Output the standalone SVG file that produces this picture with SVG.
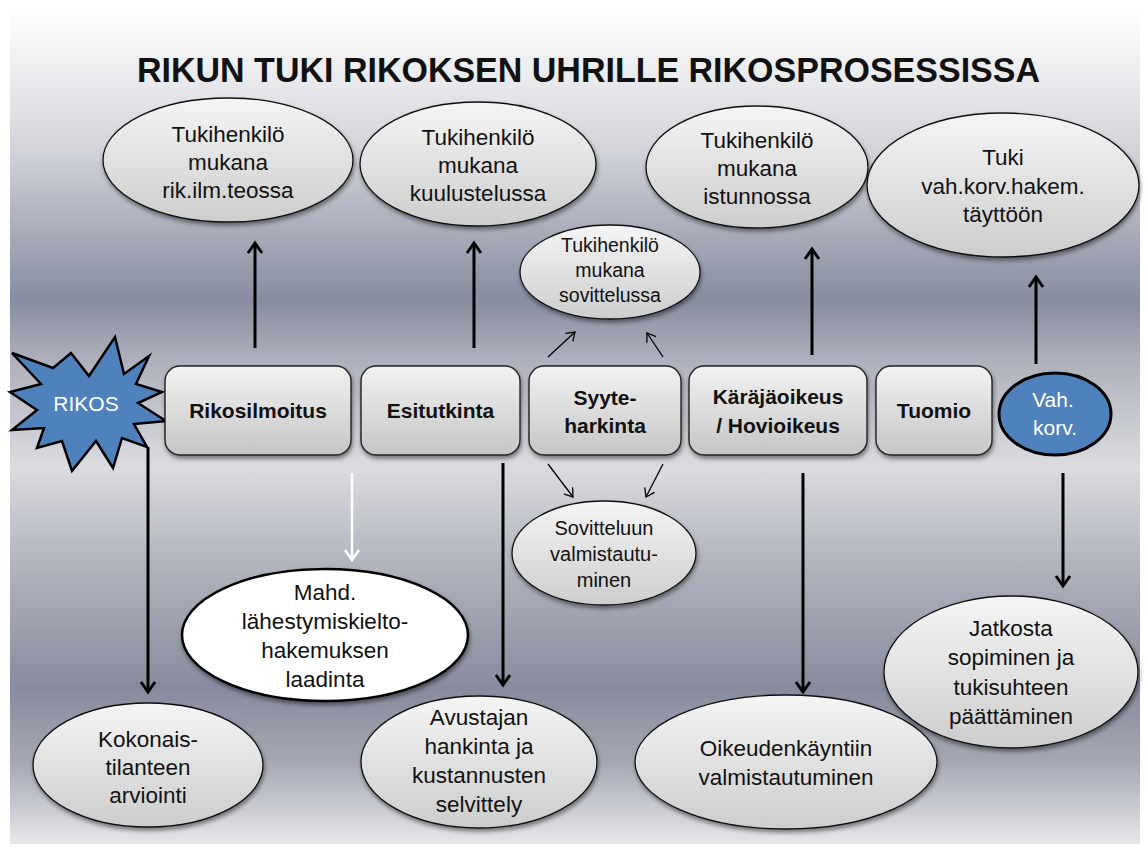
<svg xmlns="http://www.w3.org/2000/svg" width="1147" height="848" viewBox="0 0 1147 848">
<defs>
<linearGradient id="bg" gradientUnits="userSpaceOnUse" x1="0" y1="7" x2="0" y2="844">
<stop offset="0" stop-color="#ffffff"/>
<stop offset="0.06" stop-color="#f1f1f3"/>
<stop offset="0.17" stop-color="#d2d4da"/>
<stop offset="0.35" stop-color="#878ca0"/>
<stop offset="0.42" stop-color="#adb0bb"/>
<stop offset="0.55" stop-color="#dbdce0"/>
<stop offset="0.66" stop-color="#b3b5bf"/>
<stop offset="0.815" stop-color="#878b9d"/>
<stop offset="0.9" stop-color="#a4a7b3"/>
<stop offset="1" stop-color="#e7e7ea"/>
</linearGradient>
<linearGradient id="eg" x1="0" y1="0" x2="0" y2="1">
<stop offset="0" stop-color="#f5f5f5"/>
<stop offset="1" stop-color="#cdcdcd"/>
</linearGradient>
<linearGradient id="rg" x1="0" y1="0" x2="0" y2="1">
<stop offset="0" stop-color="#f2f2f2"/>
<stop offset="1" stop-color="#c6c6c6"/>
</linearGradient>
<filter id="sh" x="-10%" y="-10%" width="125%" height="135%">
<feDropShadow dx="1" dy="3" stdDeviation="2" flood-color="#000" flood-opacity="0.45"/>
</filter>
<marker id="ah" markerUnits="userSpaceOnUse" markerWidth="24" markerHeight="24" viewBox="-12 -12 24 24" refX="0" refY="0" orient="auto">
<path d="M-10,-7 L0,0 L-10,7" fill="none" stroke="#000" stroke-width="3"/>
</marker>
<marker id="ahw" markerUnits="userSpaceOnUse" markerWidth="24" markerHeight="24" viewBox="-12 -12 24 24" refX="0" refY="0" orient="auto">
<path d="M-10,-7 L0,0 L-10,7" fill="none" stroke="#fff" stroke-width="2.5"/>
</marker>
<marker id="aht" markerUnits="userSpaceOnUse" markerWidth="20" markerHeight="20" viewBox="-10 -10 20 20" refX="0" refY="0" orient="auto">
<path d="M-8,-5.5 L0,0 L-8,5.5" fill="none" stroke="#000" stroke-width="1.3"/>
</marker>
</defs>
<style>
.t{font-family:"Liberation Sans",Arial,sans-serif;text-anchor:middle;fill:#111}
.e{font-size:22.5px}
.s{font-size:19.5px}
.b{font-size:21px;font-weight:bold}
.w{fill:#fff;font-size:21px}
.el{fill:url(#eg);stroke:#111;stroke-width:1.3;filter:url(#sh)}
.bx{fill:url(#rg);stroke:#222;stroke-width:1.4;filter:url(#sh)}
.c{stroke:#000;stroke-width:3;fill:none;marker-end:url(#ah)}
.cw{stroke:#fff;stroke-width:2.5;fill:none;marker-end:url(#ahw)}
.ct{stroke:#000;stroke-width:1.3;fill:none;marker-end:url(#aht)}
</style>
<rect x="0" y="0" width="1147" height="848" fill="#ffffff"/>
<rect x="10" y="7" width="1130" height="837" fill="url(#bg)"/>
<text class="t" x="588.5" y="82" font-size="34.5" font-weight="bold" textLength="903" lengthAdjust="spacingAndGlyphs">RIKUN TUKI RIKOKSEN UHRILLE RIKOSPROSESSISSA</text>

<g id="connectors">
<line class="c" x1="255" y1="348" x2="255" y2="243"/>
<line class="c" x1="474" y1="348" x2="474" y2="243"/>
<line class="c" x1="812" y1="355" x2="812" y2="249"/>
<line class="c" x1="1036" y1="364" x2="1036" y2="277"/>
<line class="c" x1="148" y1="447" x2="148" y2="692"/>
<line class="cw" x1="352" y1="473" x2="352" y2="560"/>
<line class="c" x1="503" y1="463" x2="503" y2="685"/>
<line class="c" x1="803" y1="473" x2="803" y2="692"/>
<line class="c" x1="1063" y1="473" x2="1063" y2="586"/>
<line class="ct" x1="548" y1="357" x2="575" y2="332"/>
<line class="ct" x1="663" y1="357" x2="647" y2="333"/>
<line class="ct" x1="548" y1="464" x2="573" y2="497"/>
<line class="ct" x1="663" y1="464" x2="646" y2="497"/>
</g>

<g id="n-e1">
<ellipse class="el" cx="228" cy="160" rx="125" ry="62"/>
<text class="t e" x="228"><tspan x="228" y="142">Tukihenkilö</tspan><tspan x="228" y="170">mukana</tspan><tspan x="228" y="198">rik.ilm.teossa</tspan></text>
</g>
<g id="n-e2">
<ellipse class="el" cx="478" cy="164" rx="118" ry="62"/>
<text class="t e"><tspan x="478" y="145">Tukihenkilö</tspan><tspan x="478" y="173">mukana</tspan><tspan x="478" y="201">kuulustelussa</tspan></text>
</g>
<g id="n-e3">
<ellipse class="el" cx="757" cy="167" rx="111" ry="61"/>
<text class="t e"><tspan x="757" y="148">Tukihenkilö</tspan><tspan x="757" y="176">mukana</tspan><tspan x="757" y="204">istunnossa</tspan></text>
</g>
<g id="n-e4">
<ellipse class="el" cx="1003" cy="185" rx="136" ry="72"/>
<text class="t e"><tspan x="1003" y="165">Tuki</tspan><tspan x="1003" y="194">vah.korv.hakem.</tspan><tspan x="1003" y="222">täyttöön</tspan></text>
</g>
<g id="n-e5">
<ellipse class="el" cx="610" cy="272" rx="90" ry="47"/>
<text class="t s"><tspan x="610" y="252">Tukihenkilö</tspan><tspan x="610" y="277">mukana</tspan><tspan x="610" y="302">sovittelussa</tspan></text>
</g>

<g id="n-rikos">
<polygon points="12,353 53,368 71,353 89,376 115,337 124,374 149,356 136,384 162,392 138,403 166,421 134,424 147,447 122,438 113,468 96,441 72,471 62,441 37,448 44,428 12,430 37,410 10,392 41,384" fill="#4f81bd" stroke="#000" stroke-width="2.5" stroke-linejoin="miter"/>
<text class="t w" x="86" y="411">RIKOS</text>
</g>
<g id="n-rikosilmoitus">
<rect class="bx" x="165" y="366" width="186" height="89" rx="15"/>
<text class="t b" x="258" y="418">Rikosilmoitus</text>
</g>
<g id="n-esitutkinta">
<rect class="bx" x="361" y="366" width="159" height="89" rx="15"/>
<text class="t b" x="440.5" y="418">Esitutkinta</text>
</g>
<g id="n-syyteharkinta">
<rect class="bx" x="529" y="366" width="152" height="89" rx="15"/>
<text class="t b"><tspan x="605" y="405">Syyte-</tspan><tspan x="605" y="433">harkinta</tspan></text>
</g>
<g id="n-oikeus">
<rect class="bx" x="689" y="366" width="178" height="89" rx="15"/>
<text class="t b"><tspan x="778" y="404">Käräjäoikeus</tspan><tspan x="778" y="433">/ Hovioikeus</tspan></text>
</g>
<g id="n-tuomio">
<rect class="bx" x="876" y="366" width="116" height="89" rx="15"/>
<text class="t b" x="934" y="418">Tuomio</text>
</g>
<g id="n-vahkorv">
<ellipse cx="1055" cy="414" rx="56" ry="41" fill="#4f81bd" stroke="#000" stroke-width="3"/>
<text class="t w"><tspan x="1053" y="407">Vah.</tspan><tspan x="1055" y="435">korv.</tspan></text>
</g>

<g id="n-sovitteluun">
<ellipse class="el" cx="604" cy="553" rx="92" ry="52"/>
<text class="t s" style="font-size:20px"><tspan x="604" y="535">Sovitteluun</tspan><tspan x="604" y="561">valmistautu-</tspan><tspan x="604" y="587">minen</tspan></text>
</g>
<g id="n-mahd">
<ellipse cx="325" cy="635" rx="143" ry="66" fill="#fff" stroke="#000" stroke-width="2.5" filter="url(#sh)"/>
<text class="t e"><tspan x="325" y="600">Mahd.</tspan><tspan x="325" y="629">lähestymiskielto-</tspan><tspan x="325" y="658">hakemuksen</tspan><tspan x="325" y="687">laadinta</tspan></text>
</g>
<g id="n-kokonais">
<ellipse class="el" cx="148" cy="765" rx="115" ry="62"/>
<text class="t e"><tspan x="148" y="747">Kokonais-</tspan><tspan x="148" y="775">tilanteen</tspan><tspan x="148" y="803">arviointi</tspan></text>
</g>
<g id="n-avustajan">
<ellipse class="el" cx="479" cy="762" rx="118" ry="66"/>
<text class="t e"><tspan x="479" y="725">Avustajan</tspan><tspan x="479" y="754">hankinta ja</tspan><tspan x="479" y="783">kustannusten</tspan><tspan x="479" y="812">selvittely</tspan></text>
</g>
<g id="n-oikeudenkaynti">
<ellipse class="el" cx="786" cy="762" rx="151" ry="67"/>
<text class="t e"><tspan x="786" y="756">Oikeudenkäyntiin</tspan><tspan x="786" y="785">valmistautuminen</tspan></text>
</g>
<g id="n-jatkosta">
<ellipse class="el" cx="1011" cy="672" rx="127" ry="76"/>
<text class="t e"><tspan x="1011" y="636">Jatkosta</tspan><tspan x="1011" y="665">sopiminen ja</tspan><tspan x="1011" y="695">tukisuhteen</tspan><tspan x="1011" y="724">päättäminen</tspan></text>
</g>
</svg>
